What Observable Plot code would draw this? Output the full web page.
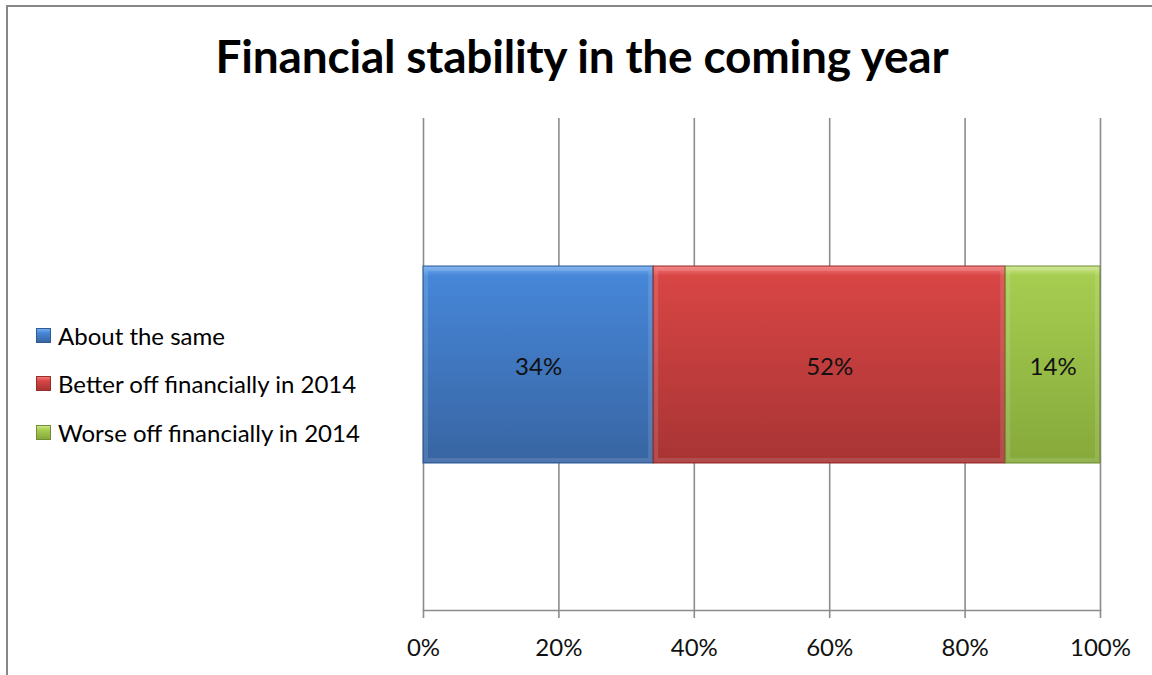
<!DOCTYPE html>
<html>
<head>
<meta charset="utf-8">
<script src="https://cdn.jsdelivr.net/npm/d3@7"></script>
<script src="https://cdn.jsdelivr.net/npm/@observablehq/plot@0.6"></script>
<style>
  html, body { margin: 0; padding: 0; background: #fff; }
  body { width: 1152px; height: 675px; overflow: hidden; position: relative; font-family: Lato, "Open Sans", sans-serif; }
  #frame { position: absolute; left: 6px; top: 5px; width: 1200px; height: 700px; z-index: 2; pointer-events: none;
           border-top: 2px solid #878787; border-left: 2px solid #878787; }
  #title { position: absolute; left: 0; top: 28px; width: 1164px; text-align: center;
           font-size: 46px; font-weight: 700; color: #000; letter-spacing: -0.2px; line-height: 56px; }
  #chart { position: absolute; left: 0; top: 100px; }
  #legend { position: absolute; left: 36px; top: 311px; font-size: 24px; color: #000; }
  .item { display: flex; align-items: center; height: 48.5px; }
  .swatch { width: 15px; height: 15px; margin-right: 7px; box-sizing: border-box; }
</style>
</head>
<body>
<div id="frame"></div>
<div id="title">Financial stability in the coming year</div>
<div id="chart"></div>
<div id="legend"></div>
<script>
// Survey answers, shares of respondents (percent)
const categories = ["About the same", "Better off financially in 2014", "Worse off financially in 2014"];
const values = [34, 52, 14];
const colors = ["#4282d4", "#d64242", "#a2c94c"];
const gradientStops = [
  ["#74acee", "#4686d8", "#3865a2"],
  ["#f27a7a", "#d84545", "#a83434"],
  ["#cbe689", "#a6cd50", "#86a93b"]
];
const xTicks = [0, 20, 40, 60, 80, 100];
const tickLabels = ["0%", "20%", "40%", "60%", "80%", "100%"];
const row = "Financial stability";

// stacked table
let acc = 0;
const rows = categories.map((c, i) => {
  const r = {category: c, value: values[i], x1: acc, x2: acc + values[i], fill: `url(#grad${i})`, stroke: colors[i]};
  acc += values[i];
  return r;
});

const plot = Plot.plot({
  width: 1152,
  height: 575,
  marginLeft: 423,
  marginRight: 52,
  marginTop: 18,
  marginBottom: 65,
  style: {fontFamily: "Lato, 'Open Sans', sans-serif", background: "transparent"},
  x: {domain: [0, 100]},
  y: {domain: [row], padding: 0.4286, axis: null},
  color: {type: "identity"},
  marks: [
    Plot.ruleX(xTicks, {stroke: "#8c8c8c", strokeWidth: 1.6, strokeOpacity: 1}),
    Plot.frame({anchor: "bottom", stroke: "#8c8c8c", strokeWidth: 1.6, strokeOpacity: 1}),
    Plot.axisX({
      ticks: xTicks,
      tickSize: 8,
      tickPadding: 20,
      stroke: "#8c8c8c",
      strokeWidth: 1.6,
      strokeOpacity: 1,
      tickFormat: (d) => tickLabels[xTicks.indexOf(d)],
      fontSize: 24,
      fill: "#111",
      label: null
    }),
    Plot.barX(rows, {
      y: () => row,
      x1: "x1",
      x2: "x2",
      fill: "fill",
      stroke: (d) => d3.color(d.stroke).darker(1).formatHex(),
      strokeWidth: 1
    }),
    // inner bevel highlight
    Plot.barX(rows, {
      y: () => row,
      x1: "x1",
      x2: "x2",
      inset: 3,
      fill: "none",
      stroke: "white",
      strokeOpacity: 0.12,
      strokeWidth: 4
    }),
    Plot.text(rows, {
      y: () => row,
      x: (d) => (d.x1 + d.x2) / 2,
      text: (d) => `${d.value}%`,
      dy: 2,
      fontSize: 24,
      fill: "#111"
    })
  ]
});

// vertical shading gradients for the bar segments
const defs = d3.select(plot).insert("defs", ":first-child");
gradientStops.forEach((s, i) => {
  const g = defs.append("linearGradient").attr("id", `grad${i}`).attr("x1", 0).attr("y1", 0).attr("x2", 0).attr("y2", 1);
  g.append("stop").attr("offset", 0).attr("stop-color", s[0]);
  g.append("stop").attr("offset", 0.05).attr("stop-color", s[1]);
  g.append("stop").attr("offset", 1).attr("stop-color", s[2]);
});

document.getElementById("chart").appendChild(plot);

// legend
const legend = d3.select("#legend");
categories.forEach((c, i) => {
  const item = legend.append("div").attr("class", "item");
  item.append("div").attr("class", "swatch")
    .style("background", `linear-gradient(${gradientStops[i][0]}, ${gradientStops[i][1]} 30%, ${gradientStops[i][2]})`)
    .style("border", `1px solid ${d3.color(colors[i]).darker(1).formatHex()}`);
  item.append("span").text(c);
});
</script>
</body>
</html>
